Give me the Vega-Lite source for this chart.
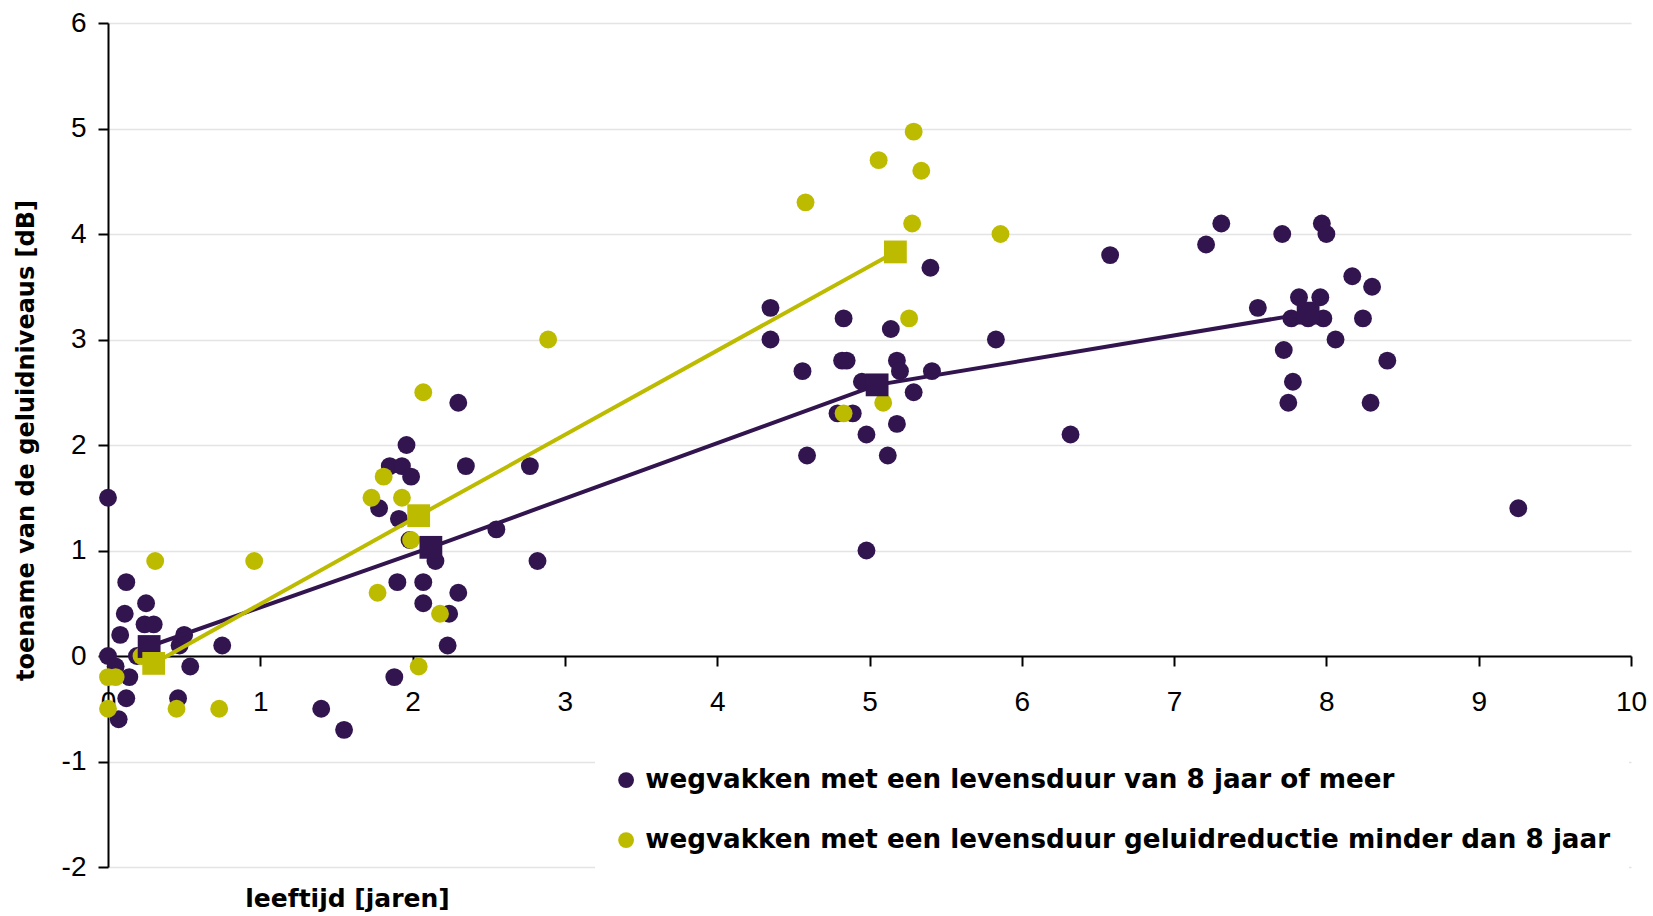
{
  "$schema": "https://vega.github.io/schema/vega-lite/v6.json",
  "width": 1523,
  "height": 844,
  "autosize": {"type": "none"},
  "padding": {"left": 108, "top": 23, "right": 22, "bottom": 49},
  "background": "white",
  "config": {
    "view": {"stroke": null},
    "font": "DejaVu Sans"
  },
  "datasets": {
    "punten": [
      {"leeftijd": 0, "toename": 1.5, "reeks": "A"},
      {"leeftijd": 0, "toename": 0.0, "reeks": "A"},
      {"leeftijd": 0.05, "toename": -0.1, "reeks": "A"},
      {"leeftijd": 0.14, "toename": -0.2, "reeks": "A"},
      {"leeftijd": 0.12, "toename": -0.4, "reeks": "A"},
      {"leeftijd": 0.07, "toename": -0.6, "reeks": "A"},
      {"leeftijd": 0.08, "toename": 0.2, "reeks": "A"},
      {"leeftijd": 0.11, "toename": 0.4, "reeks": "A"},
      {"leeftijd": 0.12, "toename": 0.7, "reeks": "A"},
      {"leeftijd": 0.19, "toename": 0.0, "reeks": "A"},
      {"leeftijd": 0.25, "toename": 0.5, "reeks": "A"},
      {"leeftijd": 0.24, "toename": 0.3, "reeks": "A"},
      {"leeftijd": 0.30, "toename": 0.3, "reeks": "A"},
      {"leeftijd": 0.47, "toename": 0.1, "reeks": "A"},
      {"leeftijd": 0.50, "toename": 0.2, "reeks": "A"},
      {"leeftijd": 0.54, "toename": -0.1, "reeks": "A"},
      {"leeftijd": 0.46, "toename": -0.4, "reeks": "A"},
      {"leeftijd": 0.75, "toename": 0.1, "reeks": "A"},
      {"leeftijd": 1.40, "toename": -0.5, "reeks": "A"},
      {"leeftijd": 1.55, "toename": -0.7, "reeks": "A"},
      {"leeftijd": 1.96, "toename": 2.0, "reeks": "A"},
      {"leeftijd": 1.85, "toename": 1.8, "reeks": "A"},
      {"leeftijd": 1.93, "toename": 1.8, "reeks": "A"},
      {"leeftijd": 1.99, "toename": 1.7, "reeks": "A"},
      {"leeftijd": 2.30, "toename": 2.4, "reeks": "A"},
      {"leeftijd": 2.35, "toename": 1.8, "reeks": "A"},
      {"leeftijd": 2.77, "toename": 1.8, "reeks": "A"},
      {"leeftijd": 1.78, "toename": 1.4, "reeks": "A"},
      {"leeftijd": 1.91, "toename": 1.3, "reeks": "A"},
      {"leeftijd": 1.98, "toename": 1.1, "reeks": "A"},
      {"leeftijd": 2.55, "toename": 1.2, "reeks": "A"},
      {"leeftijd": 2.15, "toename": 0.9, "reeks": "A"},
      {"leeftijd": 2.82, "toename": 0.9, "reeks": "A"},
      {"leeftijd": 1.90, "toename": 0.7, "reeks": "A"},
      {"leeftijd": 2.07, "toename": 0.7, "reeks": "A"},
      {"leeftijd": 2.30, "toename": 0.6, "reeks": "A"},
      {"leeftijd": 2.07, "toename": 0.5, "reeks": "A"},
      {"leeftijd": 2.24, "toename": 0.4, "reeks": "A"},
      {"leeftijd": 2.23, "toename": 0.1, "reeks": "A"},
      {"leeftijd": 1.88, "toename": -0.2, "reeks": "A"},
      {"leeftijd": 4.35, "toename": 3.3, "reeks": "A"},
      {"leeftijd": 4.35, "toename": 3.0, "reeks": "A"},
      {"leeftijd": 4.83, "toename": 3.2, "reeks": "A"},
      {"leeftijd": 5.14, "toename": 3.1, "reeks": "A"},
      {"leeftijd": 5.40, "toename": 3.68, "reeks": "A"},
      {"leeftijd": 5.83, "toename": 3.0, "reeks": "A"},
      {"leeftijd": 4.82, "toename": 2.8, "reeks": "A"},
      {"leeftijd": 4.85, "toename": 2.8, "reeks": "A"},
      {"leeftijd": 4.56, "toename": 2.7, "reeks": "A"},
      {"leeftijd": 5.18, "toename": 2.8, "reeks": "A"},
      {"leeftijd": 5.20, "toename": 2.7, "reeks": "A"},
      {"leeftijd": 5.41, "toename": 2.7, "reeks": "A"},
      {"leeftijd": 4.95, "toename": 2.6, "reeks": "A"},
      {"leeftijd": 5.29, "toename": 2.5, "reeks": "A"},
      {"leeftijd": 4.79, "toename": 2.3, "reeks": "A"},
      {"leeftijd": 4.89, "toename": 2.3, "reeks": "A"},
      {"leeftijd": 5.18, "toename": 2.2, "reeks": "A"},
      {"leeftijd": 4.98, "toename": 2.1, "reeks": "A"},
      {"leeftijd": 4.59, "toename": 1.9, "reeks": "A"},
      {"leeftijd": 5.12, "toename": 1.9, "reeks": "A"},
      {"leeftijd": 4.98, "toename": 1.0, "reeks": "A"},
      {"leeftijd": 6.32, "toename": 2.1, "reeks": "A"},
      {"leeftijd": 6.58, "toename": 3.8, "reeks": "A"},
      {"leeftijd": 7.21, "toename": 3.9, "reeks": "A"},
      {"leeftijd": 7.31, "toename": 4.1, "reeks": "A"},
      {"leeftijd": 9.26, "toename": 1.4, "reeks": "A"},
      {"leeftijd": 7.71, "toename": 4.0, "reeks": "A"},
      {"leeftijd": 7.97, "toename": 4.1, "reeks": "A"},
      {"leeftijd": 8.00, "toename": 4.0, "reeks": "A"},
      {"leeftijd": 8.17, "toename": 3.6, "reeks": "A"},
      {"leeftijd": 8.30, "toename": 3.5, "reeks": "A"},
      {"leeftijd": 7.55, "toename": 3.3, "reeks": "A"},
      {"leeftijd": 7.82, "toename": 3.4, "reeks": "A"},
      {"leeftijd": 7.96, "toename": 3.4, "reeks": "A"},
      {"leeftijd": 7.77, "toename": 3.2, "reeks": "A"},
      {"leeftijd": 7.88, "toename": 3.2, "reeks": "A"},
      {"leeftijd": 7.98, "toename": 3.2, "reeks": "A"},
      {"leeftijd": 8.24, "toename": 3.2, "reeks": "A"},
      {"leeftijd": 8.06, "toename": 3.0, "reeks": "A"},
      {"leeftijd": 7.72, "toename": 2.9, "reeks": "A"},
      {"leeftijd": 8.40, "toename": 2.8, "reeks": "A"},
      {"leeftijd": 7.78, "toename": 2.6, "reeks": "A"},
      {"leeftijd": 7.75, "toename": 2.4, "reeks": "A"},
      {"leeftijd": 8.29, "toename": 2.4, "reeks": "A"},
      {"leeftijd": 0.31, "toename": 0.9, "reeks": "B"},
      {"leeftijd": 0.96, "toename": 0.9, "reeks": "B"},
      {"leeftijd": 0.22, "toename": 0.0, "reeks": "B"},
      {"leeftijd": 0.0, "toename": -0.2, "reeks": "B"},
      {"leeftijd": 0.05, "toename": -0.2, "reeks": "B"},
      {"leeftijd": 0.0, "toename": -0.5, "reeks": "B"},
      {"leeftijd": 0.45, "toename": -0.5, "reeks": "B"},
      {"leeftijd": 0.73, "toename": -0.5, "reeks": "B"},
      {"leeftijd": 2.07, "toename": 2.5, "reeks": "B"},
      {"leeftijd": 1.81, "toename": 1.7, "reeks": "B"},
      {"leeftijd": 1.73, "toename": 1.5, "reeks": "B"},
      {"leeftijd": 1.93, "toename": 1.5, "reeks": "B"},
      {"leeftijd": 1.99, "toename": 1.1, "reeks": "B"},
      {"leeftijd": 1.77, "toename": 0.6, "reeks": "B"},
      {"leeftijd": 2.18, "toename": 0.4, "reeks": "B"},
      {"leeftijd": 2.04, "toename": -0.1, "reeks": "B"},
      {"leeftijd": 2.89, "toename": 3.0, "reeks": "B"},
      {"leeftijd": 5.29, "toename": 4.97, "reeks": "B"},
      {"leeftijd": 5.06, "toename": 4.7, "reeks": "B"},
      {"leeftijd": 5.34, "toename": 4.6, "reeks": "B"},
      {"leeftijd": 4.58, "toename": 4.3, "reeks": "B"},
      {"leeftijd": 5.28, "toename": 4.1, "reeks": "B"},
      {"leeftijd": 5.86, "toename": 4.0, "reeks": "B"},
      {"leeftijd": 5.26, "toename": 3.2, "reeks": "B"},
      {"leeftijd": 5.09, "toename": 2.4, "reeks": "B"},
      {"leeftijd": 4.83, "toename": 2.3, "reeks": "B"}
    ],
    "gemiddelden": [
      {"leeftijd": 0.27, "toename": 0.09, "reeks": "A"},
      {"leeftijd": 2.12, "toename": 1.03, "reeks": "A"},
      {"leeftijd": 5.05, "toename": 2.57, "reeks": "A"},
      {"leeftijd": 7.88, "toename": 3.25, "reeks": "A"},
      {"leeftijd": 0.30, "toename": -0.07, "reeks": "B"},
      {"leeftijd": 2.04, "toename": 1.33, "reeks": "B"},
      {"leeftijd": 5.17, "toename": 3.83, "reeks": "B"}
    ]
  },
  "encoding": {
    "x": {
      "field": "leeftijd",
      "type": "quantitative",
      "scale": {"domain": [0, 10], "nice": false, "zero": false},
      "axis": {
        "title": "leeftijd [jaren]",
        "values": [0, 1, 2, 3, 4, 5, 6, 7, 8, 9, 10],
        "labelExpr": "toString(datum.value)",
        "grid": false,
        "offset": -211,
        "domainColor": "black",
        "domainWidth": 2,
        "tickColor": "black",
        "tickWidth": 2,
        "tickSize": 10,
        "labelFont": "Liberation Sans",
        "labelFontSize": 28,
        "labelColor": "black",
        "labelPadding": 22,
        "labelFlush": false,
        "labelOverlap": false,
        "titleFont": "DejaVu Sans",
        "titleFontSize": 25,
        "titleFontWeight": "bold",
        "titleColor": "black",
        "titleX": 239,
        "titleY": 242,
        "titleAlign": "center",
        "titleBaseline": "middle",
        "titleAngle": 0
      }
    },
    "y": {
      "field": "toename",
      "type": "quantitative",
      "scale": {"domain": [-2, 6], "nice": false, "zero": false},
      "axis": {
        "title": "toename van de geluidniveaus [dB]",
        "values": [-2, -1, 0, 1, 2, 3, 4, 5, 6],
        "labelExpr": "toString(datum.value)",
        "grid": true,
        "gridColor": "#E4E4E4",
        "gridWidth": 1.5,
        "domainColor": "black",
        "domainWidth": 2,
        "tickColor": "black",
        "tickWidth": 2,
        "tickSize": 10,
        "labelFont": "Liberation Sans",
        "labelFontSize": 28,
        "labelColor": "black",
        "labelPadding": 12,
        "labelFlush": false,
        "labelOverlap": false,
        "titleFont": "DejaVu Sans",
        "titleFontSize": 24,
        "titleFontWeight": "bold",
        "titleColor": "black",
        "titleX": -82,
        "titleY": 417,
        "titleAlign": "center",
        "titleBaseline": "middle",
        "titleAngle": -90
      }
    }
  },
  "layer": [
    {
      "data": {"name": "punten"},
      "mark": {"type": "circle", "size": 320, "opacity": 1, "strokeWidth": 0},
      "encoding": {
        "color": {
          "field": "reeks",
          "type": "nominal",
          "scale": {"domain": ["A", "B"], "range": ["#32144F", "#BDBB00"]},
          "legend": {
            "orient": "none",
            "legendX": 487,
            "legendY": 726,
            "title": null,
            "fillColor": "white",
            "padding": 18,
            "labelFont": "DejaVu Sans",
            "labelFontWeight": "bold",
            "labelFontSize": 26.2,
            "labelColor": "black",
            "labelLimit": 0,
            "labelOffset": 6,
            "symbolType": "circle",
            "symbolSize": 250,
            "symbolStrokeWidth": 0,
            "symbolOpacity": 1,
            "rowPadding": 33,
            "labelExpr": "datum.value == 'A' ? 'wegvakken met een levensduur van 8 jaar of meer' : 'wegvakken met een levensduur geluidreductie minder dan 8 jaar'"
          }
        }
      }
    },
    {
      "data": {"name": "gemiddelden"},
      "mark": {"type": "line", "strokeWidth": 4},
      "encoding": {
        "color": {
          "field": "reeks",
          "type": "nominal",
          "scale": {"domain": ["A", "B"], "range": ["#32144F", "#BDBB00"]},
          "legend": null
        }
      }
    },
    {
      "data": {"name": "gemiddelden"},
      "mark": {"type": "square", "size": 520, "opacity": 1, "filled": true},
      "encoding": {
        "color": {
          "field": "reeks",
          "type": "nominal",
          "scale": {"domain": ["A", "B"], "range": ["#32144F", "#BDBB00"]},
          "legend": null
        }
      }
    }
  ],
  "resolve": {"scale": {"color": "independent"}, "legend": {"color": "independent"}}
}
